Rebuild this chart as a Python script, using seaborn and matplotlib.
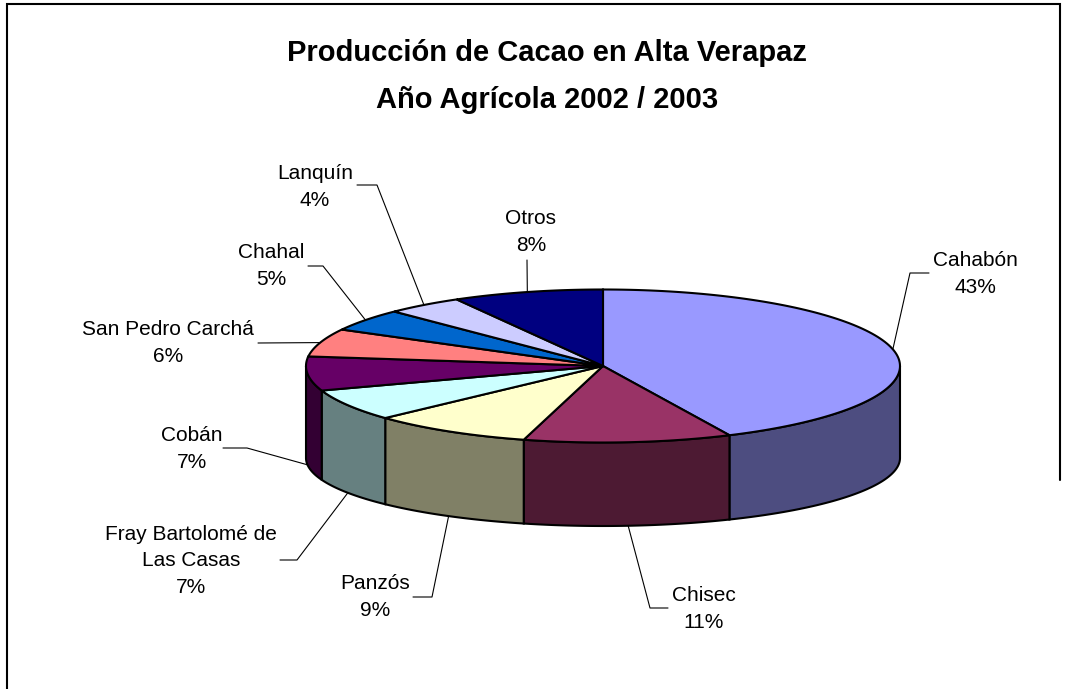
import numpy as np
import matplotlib.pyplot as plt
from matplotlib.patches import Polygon
from matplotlib.colors import to_rgb
import seaborn as sns

# Data
municipios = ["Cahabón", "Chisec", "Panzós", "Fray Bartolomé de\nLas Casas", "Cobán",
              "San Pedro Carchá", "Chahal", "Lanquín", "Otros"]
produccion = [43.0, 11.3, 8.8, 6.7, 7.2, 5.9, 4.7, 4.2, 8.2]
colores = ["#9999FF", "#993366", "#FFFFCC", "#CCFFFF", "#660066",
           "#FF8080", "#0066CC", "#CCCCFF", "#000080"]

titulo = "Producción de Cacao en Alta Verapaz"
subtitulo = "Año Agrícola 2002 / 2003"

sns.set_style("white")
plt.rcParams['font.family'] = ['Liberation Sans', 'DejaVu Sans']
plt.rcParams['text.color'] = 'black'

# Layout in pixels (figure is 1066 x 689)
W, H = 1066, 689
CX, CY, RX, RY = 603, 366, 297, 76.5   # top ellipse
BCY, BRY = 458, 68                     # bottom ellipse (slight perspective)

# label centre, leader stub start, leader elbow
label_layout = [
    ((975, 274), (929, 273), (910, 273)),
    ((704, 609), (668, 608), (650, 608)),
    ((375, 597), (413, 597), (432, 597)),
    ((191, 561), (280, 560), (297, 560)),
    ((192, 449), (223, 448), (247, 448)),
    ((168, 343), (258, 343), (258, 343)),
    ((271, 266), (308, 266), (323, 266)),
    ((315, 187), (357, 185), (377, 185)),
    ((531, 232), (527, 260), (527, 260)),
]


def ell(t, cy=CY, ry=RY):
    t = np.radians(t)
    return CX + RX * np.cos(t), cy - ry * np.sin(t)


fig = plt.figure(figsize=(W / 100, H / 100), dpi=100)
ax = fig.add_axes([0, 0, 1, 1])
ax.set_xlim(0, W)
ax.set_ylim(H, 0)
ax.axis('off')

vals = np.array(produccion, dtype=float)
frac = vals / vals.sum()
cum = np.concatenate([[0], np.cumsum(frac)])
pct = [f"{round(f * 100):.0f}%" for f in frac]

for i, col in enumerate(colores):
    a0 = 90 - 360 * cum[i]
    a1 = 90 - 360 * cum[i + 1]
    # visible side wall (front half of the disc)
    hi, lo = min(a0, 0), max(a1, -180)
    if lo < hi:
        ts = np.linspace(hi, lo, 80)
        tx, ty = ell(ts)
        bx, by = ell(ts[::-1], BCY, BRY)
        side = np.array(to_rgb(col)) * 0.5
        ax.add_patch(Polygon(np.column_stack([np.r_[tx, bx], np.r_[ty, by]]),
                             closed=True, facecolor=side, edgecolor='black',
                             linewidth=1.5, zorder=1))

for i, col in enumerate(colores):
    a0 = 90 - 360 * cum[i]
    a1 = 90 - 360 * cum[i + 1]
    ts = np.linspace(a0, a1, 120)
    x, y = ell(ts)
    ax.add_patch(Polygon(np.column_stack([np.r_[CX, x], np.r_[CY, y]]),
                         closed=True, facecolor=col, edgecolor='black',
                         linewidth=1.5, zorder=2))

# labels with leader lines
for i, name in enumerate(municipios):
    a0 = 90 - 360 * cum[i]
    a1 = 90 - 360 * cum[i + 1]
    m = (a0 + a1) / 2
    if -180 < m < 0:
        anchor = ell(m, BCY, BRY)
    else:
        anchor = ell(m)
    (tx, ty), s0, s1 = label_layout[i]
    ax.plot([s0[0], s1[0], anchor[0]], [s0[1], s1[1], anchor[1]],
            color='black', linewidth=0.8, zorder=3)
    ax.text(tx, ty, f"{name}\n{pct[i]}", ha='center', va='center',
            fontsize=15, linespacing=1.5, color='black', zorder=4)

ax.text(547, 61, titulo, ha='center', va='baseline', fontsize=21,
        fontweight='bold', color='black')
ax.text(547, 108, subtitulo, ha='center', va='baseline', fontsize=21,
        fontweight='bold', color='black')

# chart frame
ax.plot([7, 7, 1060, 1060], [H, 4, 4, 480], color='black', linewidth=1.5,
        solid_joinstyle='miter')

fig.savefig("out.png", dpi=100)
